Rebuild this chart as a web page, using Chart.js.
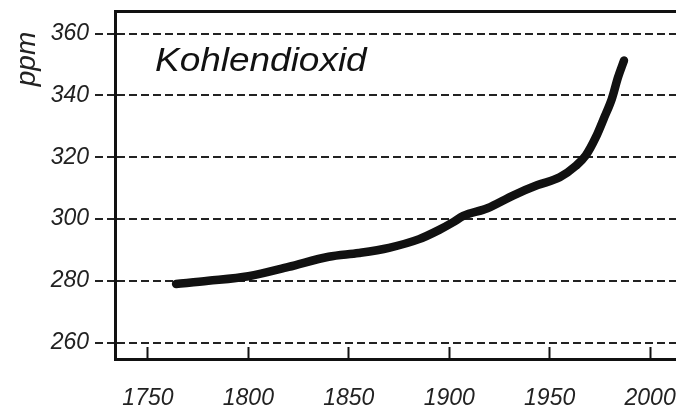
<!DOCTYPE html>
<html>
<head>
<meta charset="utf-8">
<script src="https://cdn.jsdelivr.net/npm/chart.js@4.4.1/dist/chart.umd.min.js"></script>
<style>
  html, body { margin: 0; padding: 0; background: #fff; }
  #chart { display: block; }
</style>
</head>
<body>
<canvas id="chart" width="676" height="410"></canvas>
<script>
// CO2-Verlauf
const years = [1764, 1780, 1800, 1820, 1840, 1855, 1870, 1885, 1895, 1902, 1907, 1919, 1932, 1944, 1955, 1963, 1968, 1973, 1977, 1981, 1984, 1987];
const ppm = [279, 280, 281.5, 284.5, 287.8, 289, 290.7, 293.5, 296.5, 299, 301, 303.5, 307.7, 311, 313.5, 317.2, 320.6, 326.5, 332.6, 339, 345.8, 351.3];

const yearTicks = [1750, 1800, 1850, 1900, 1950, 2000];
const ppmTicks = [260, 280, 300, 320, 340, 360];

const tickFont = {family: 'Liberation Sans', size: 23, style: 'italic'};

function noPadding(s) {
    s.paddingLeft = 0;
    s.paddingRight = 0;
    s.paddingTop = 0;
    s.paddingBottom = 0;
}

const labelsPlugin = {
    id: 'labels',
    afterDraw(chart) {
        const ctx = chart.ctx;
        ctx.save();
        ctx.fillStyle = '#111';
        ctx.font = 'italic 33px "Liberation Sans"';
        ctx.textBaseline = 'alphabetic';
        ctx.translate(155, 71);
        ctx.scale(1.12, 1);
        ctx.fillText('Kohlendioxid', 0, 0);
        ctx.restore();

        ctx.save();
        ctx.fillStyle = '#222';
        ctx.font = 'italic 28px "Liberation Sans"';
        ctx.textAlign = 'center';
        ctx.textBaseline = 'middle';
        ctx.translate(27, 59);
        ctx.rotate(-Math.PI / 2);
        ctx.fillText('ppm', 0, 0);
        ctx.restore();
    }
};

const ctx = document.getElementById('chart').getContext('2d');

new Chart(ctx, {
    type: 'line',
    data: {
        datasets: [{
            data: years.map((y, i) => ({x: y, y: ppm[i]})),
            borderColor: '#111',
            borderWidth: 8.5,
            borderCapStyle: 'round',
            borderJoinStyle: 'round',
            cubicInterpolationMode: 'monotone',
            pointRadius: 0,
            fill: false
        }]
    },
    options: {
        responsive: false,
        animation: false,
        devicePixelRatio: 1,
        layout: {padding: 0},
        plugins: {
            legend: {display: false},
            tooltip: {enabled: false}
        },
        scales: {
            x: {
                type: 'linear',
                position: 'bottom',
                min: 1733.6,
                max: 2012.9,
                afterFit: s => { s.height = 51; noPadding(s); },
                afterBuildTicks: s => { s.ticks = yearTicks.map(v => ({value: v})); },
                ticks: {
                    font: tickFont,
                    color: '#222',
                    padding: 38,
                    maxRotation: 0,
                    callback: v => String(v)
                },
                grid: {
                    drawOnChartArea: false,
                    drawTicks: true,
                    tickLength: -12,
                    tickWidth: 2,
                    tickColor: '#111'
                },
                border: {display: true, width: 3, color: '#111'}
            },
            top: {
                type: 'linear',
                position: 'top',
                min: 1733.6,
                max: 2012.9,
                afterFit: s => { s.height = 11; noPadding(s); },
                ticks: {display: false},
                grid: {display: false},
                border: {display: true, width: 3, color: '#111'}
            },
            y: {
                type: 'linear',
                min: 254.7,
                max: 367.35,
                afterFit: s => { s.width = 115; noPadding(s); },
                afterBuildTicks: s => { s.ticks = ppmTicks.map(v => ({value: v})); },
                ticks: {
                    font: tickFont,
                    color: '#222',
                    padding: 6,
                    callback: v => String(v)
                },
                grid: {
                    color: '#222',
                    lineWidth: 2,
                    tickLength: 20,
                    tickWidth: 2,
                    tickColor: '#222',
                    tickBorderDash: [8, 4]
                },
                border: {display: true, width: 3, color: '#111', dash: [8, 4]}
            }
        }
    },
    plugins: [labelsPlugin]
});
</script>
</body>
</html>
